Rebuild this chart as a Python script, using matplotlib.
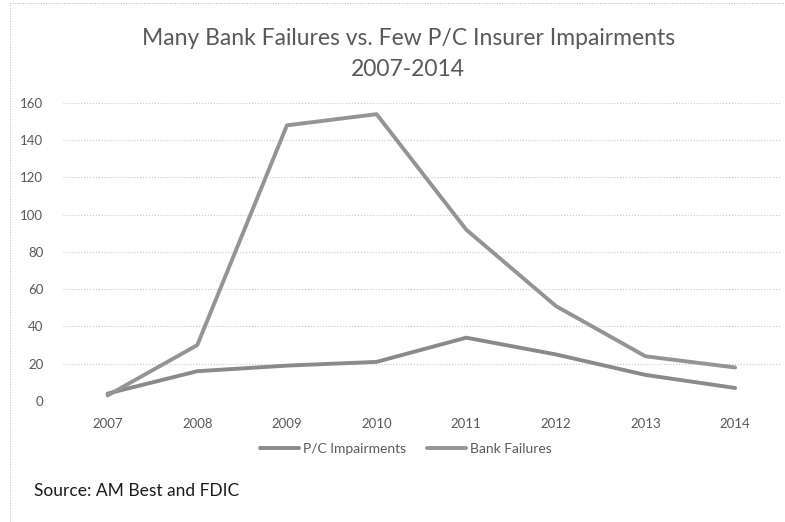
import matplotlib.pyplot as plt
import matplotlib.patches as mpatches

years = ['2007', '2008', '2009', '2010', '2011', '2012', '2013', '2014']
pc_impairments = [4, 16, 19, 21, 34, 25, 14, 7]
bank_failures = [3, 30, 148, 154, 92, 51, 24, 18]
yticks = [0, 20, 40, 60, 80, 100, 120, 140, 160]

plt.rcParams['font.family'] = ['Lato', 'DejaVu Sans']

fig = plt.figure(figsize=(7.85, 5.22), dpi=100)
ax = fig.add_axes([0.080, 0.2318, 0.9136, 0.5709])

x = range(len(years))
ax.plot(x, pc_impairments, color='#8a8a8a', lw=2.8, solid_capstyle='round',
        label='P/C Impairments')
ax.plot(x, bank_failures, color='#949494', lw=2.8, solid_capstyle='round',
        label='Bank Failures')

ax.set_xlim(-0.5, len(years) - 0.5)
ax.set_ylim(0, 160)
ax.set_xticks(list(x))
ax.set_xticklabels(years)
ax.set_yticks(yticks)
ax.grid(axis='y', color='#c8c8c8', ls=':', lw=0.8)
ax.set_axisbelow(True)
for s in ax.spines.values():
    s.set_visible(False)
ax.tick_params(length=0, labelsize=9.5, labelcolor='#595959')
ax.tick_params(axis='x', pad=12)
ax.tick_params(axis='y', pad=14)

fig.text(0.52, 0.927, 'Many Bank Failures vs. Few P/C Insurer Impairments',
         ha='center', va='center', fontsize=16.5, color='#595959')
fig.text(0.52, 0.866, '2007-2014', ha='center', va='center', fontsize=16.5,
         color='#595959')

ax.legend(loc='center', bbox_to_anchor=(0.478, -0.162), ncol=2, frameon=False,
          fontsize=10, labelcolor='#595959', handlelength=2.8,
          handletextpad=0.3, columnspacing=1.5)

fig.text(0.043, 0.06, 'Source: AM Best and FDIC', ha='left', va='center',
         fontsize=12.5, color='#1a1a1a')

# faint dotted chart border on the left
fig.add_artist(mpatches.Rectangle((0.013, 0.0), 0.99, 0.995, transform=fig.transFigure,
                                  fill=False, ls=':', lw=0.7, ec='#bbbbbb'))

fig.savefig('out.png', dpi=100)
